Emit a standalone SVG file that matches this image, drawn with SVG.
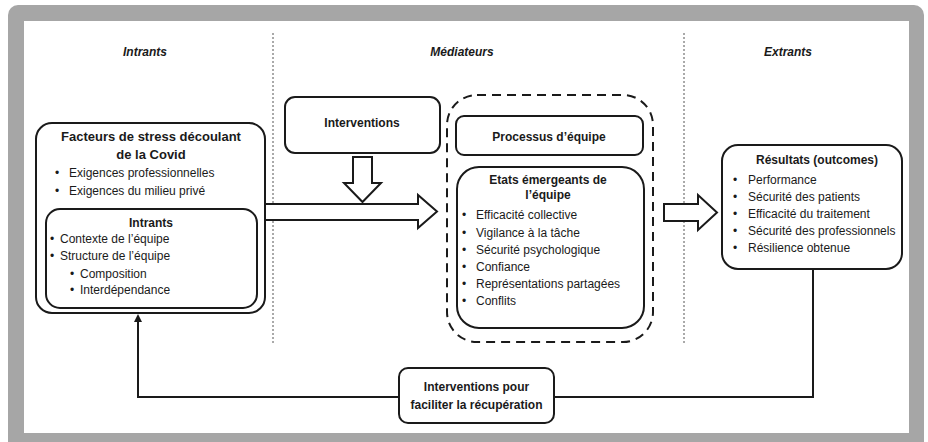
<svg xmlns="http://www.w3.org/2000/svg" width="928" height="442" viewBox="0 0 928 442">
<style>
text{font-family:"Liberation Sans",Arial,sans-serif;font-size:12px;fill:#1a1a1a}
.b{font-weight:bold}
.h{font-weight:bold;font-style:italic}
.t{font-size:13px}
.c{text-anchor:middle}
.box{fill:#fff;stroke:#1a1a1a;stroke-width:2}
.blk{fill:#fff;stroke:#1a1a1a;stroke-width:2;stroke-linejoin:miter}
.dot{stroke:#555;stroke-width:1;stroke-dasharray:2 2;fill:none}
.ln{fill:none;stroke:#1a1a1a;stroke-width:2}
</style>
<defs>
<marker id="ah" markerWidth="8" markerHeight="8" refX="4" refY="4" orient="auto" markerUnits="userSpaceOnUse">
<path d="M0,0 L8,4 L0,8 z" fill="#1a1a1a"/>
</marker>
</defs>
<rect x="8" y="5" width="916" height="450" rx="10" fill="#a6a6a6"/>
<rect x="24" y="21" width="885" height="412" fill="#fff"/>
<g id="headers">
<text class="h c" x="145" y="56">Intrants</text>
<text class="h c" x="462" y="56">Médiateurs</text>
<text class="h c" x="788" y="56">Extrants</text>
</g>
<g id="separators">
<line class="dot" x1="273" y1="33" x2="273" y2="343"/>
<line class="dot" x1="684" y1="33" x2="684" y2="343"/>
</g>
<g id="connectors">
<polygon class="blk" points="248,204 418,204 418,195 437,211.5 418,228 418,220 248,220"/>
<polygon class="blk" points="353,157 372,157 372,183 381,183 362.5,202 344,183 353,183"/>
<polygon class="blk" points="664,204 698,204 698,195 717,212.5 698,230 698,221 664,221"/>
<path class="ln" d="M813,269 V397 H554"/>
<path class="ln" d="M400,397 H138 V318" marker-end="url(#ah)"/>
</g>
<g id="stress">
<rect class="box" x="36" y="123" width="229" height="190" rx="16"/>
<text class="b c t" x="151" y="141">Facteurs de stress découlant</text>
<text class="b c t" x="151" y="159">de la Covid</text>
<text x="55" y="177">•</text><text x="69" y="177">Exigences professionnelles</text>
<text x="55" y="195">•</text><text x="69" y="195">Exigences du milieu privé</text>
</g>
<g id="intrants">
<rect class="box" x="46" y="209" width="211" height="99" rx="14"/>
<text class="b c" x="151" y="227">Intrants</text>
<text x="50" y="243">•</text><text x="60" y="243">Contexte de l’équipe</text>
<text x="50" y="260">•</text><text x="60" y="260">Structure de l’équipe</text>
<text x="70" y="278">•</text><text x="80" y="278">Composition</text>
<text x="70" y="294">•</text><text x="80" y="294">Interdépendance</text>
</g>
<g id="interventions">
<rect class="box" x="285" y="97" width="155" height="56" rx="10"/>
<text class="b c" x="362" y="127">Interventions</text>
</g>
<g id="mediateurs">
<rect x="447" y="95" width="206" height="247" rx="30" fill="none" stroke="#1a1a1a" stroke-width="2" stroke-dasharray="9 6"/>
</g>
<g id="processus">
<rect class="box" x="456" y="116" width="187" height="39" rx="8"/>
<text class="b c" x="549" y="141">Processus d’équipe</text>
</g>
<g id="etats">
<rect class="box" x="457" y="167" width="187" height="161" rx="22"/>
<text class="b c" x="548" y="184">Etats émergeants de</text>
<text class="b c" x="548" y="199">l’équipe</text>
<text x="462" y="219">•</text><text x="476" y="219">Efficacité collective</text>
<text x="462" y="237">•</text><text x="476" y="237">Vigilance à la tâche</text>
<text x="462" y="254">•</text><text x="476" y="254">Sécurité psychologique</text>
<text x="462" y="271">•</text><text x="476" y="271">Confiance</text>
<text x="462" y="288">•</text><text x="476" y="288">Représentations partagées</text>
<text x="462" y="305">•</text><text x="476" y="305">Conflits</text>
</g>
<g id="resultats">
<rect class="box" x="722" y="145" width="180" height="124" rx="16"/>
<text class="b c" x="817" y="164">Résultats (outcomes)</text>
<text x="733" y="184">•</text><text x="748" y="184">Performance</text>
<text x="733" y="201">•</text><text x="748" y="201">Sécurité des patients</text>
<text x="733" y="218">•</text><text x="748" y="218">Efficacité du traitement</text>
<text x="733" y="235">•</text><text x="748" y="235">Sécurité des professionnels</text>
<text x="733" y="252">•</text><text x="748" y="252">Résilience obtenue</text>
</g>
<g id="recuperation">
<rect class="box" x="399" y="368" width="155" height="55" rx="9"/>
<text class="b c" x="476.5" y="391">Interventions pour</text>
<text class="b c" x="476.5" y="409">faciliter la récupération</text>
</g>
</svg>
